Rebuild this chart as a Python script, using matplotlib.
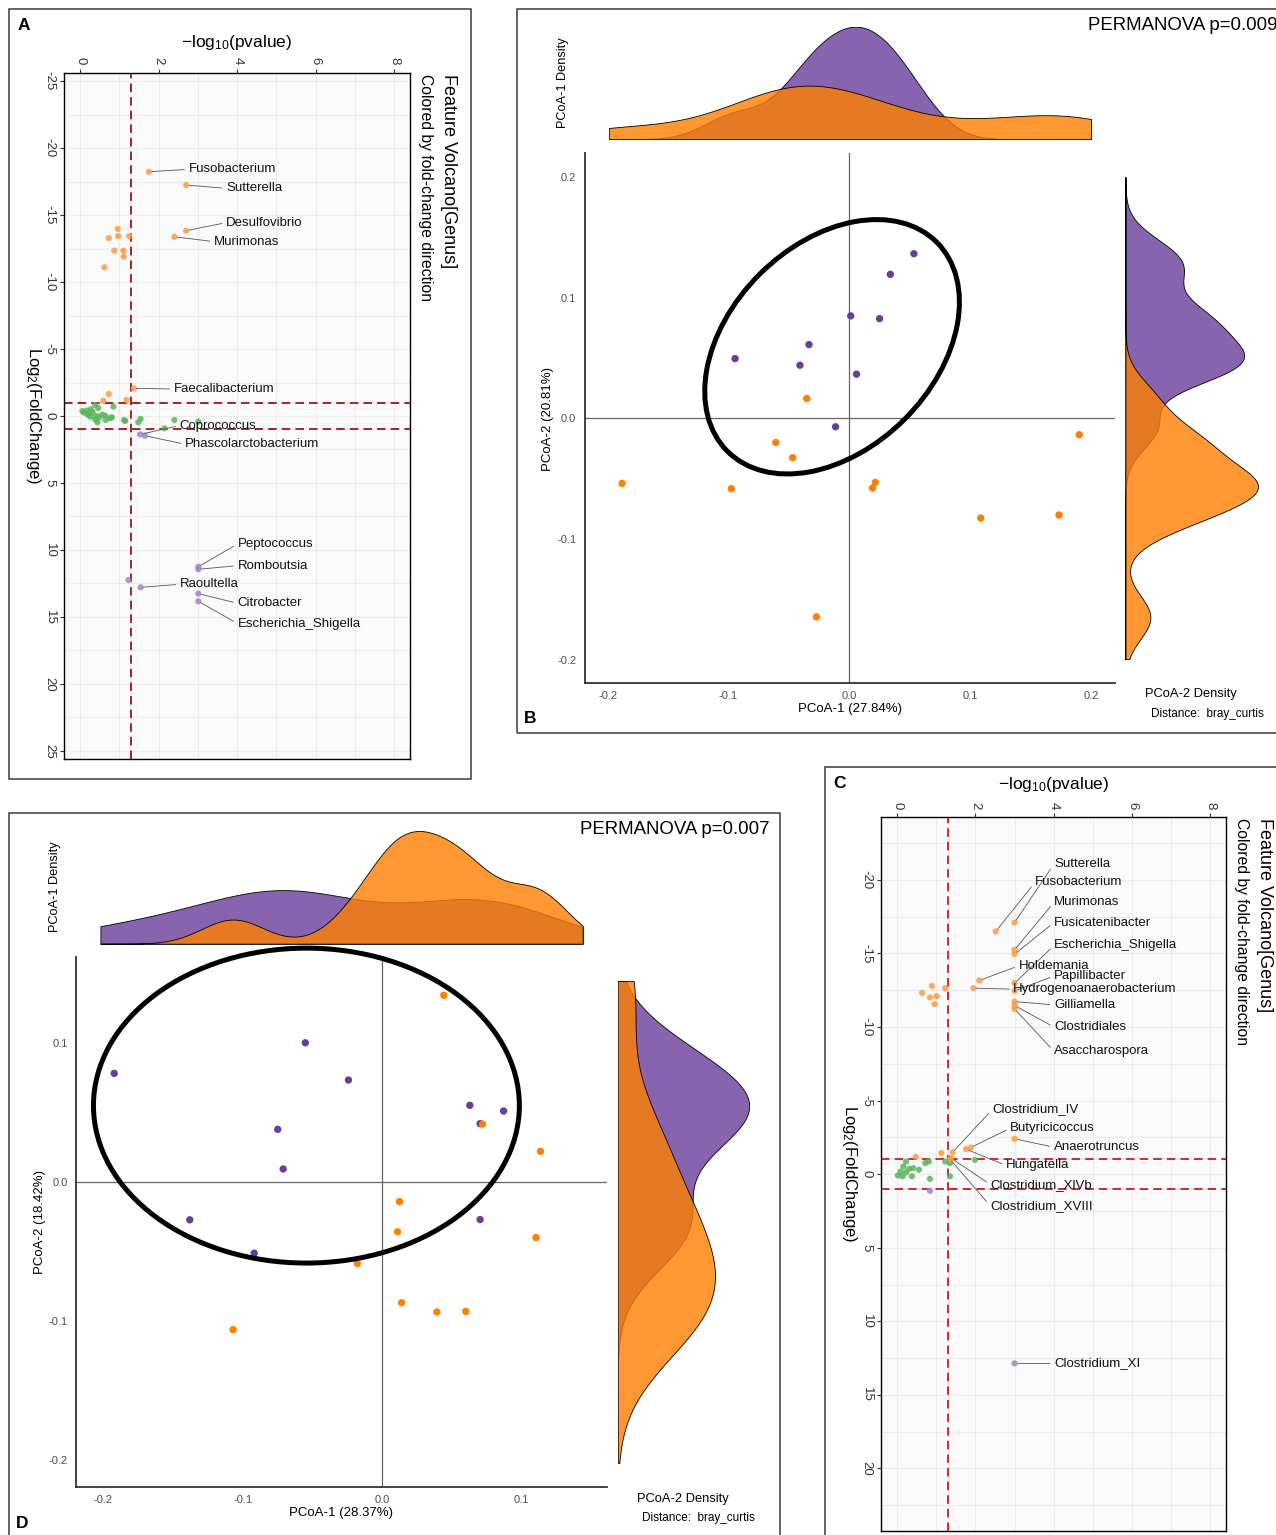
import numpy as np
import matplotlib
matplotlib.use("Agg")
import matplotlib.pyplot as plt
from matplotlib.patches import Ellipse, Rectangle
from matplotlib.colors import to_rgba

# ---------------- data ----------------
# panel A volcano: x = -log10(pvalue), y = log2(fold change)
a_genus = ["Fusobacterium", "Sutterella", "Desulfovibrio", "Murimonas", "Faecalibacterium",
           "Coprococcus", "Phascolarctobacterium", "Peptococcus", "Romboutsia", "Raoultella",
           "Citrobacter", "Escherichia_Shigella"]
a_gen_logp = [1.75, 2.70, 2.70, 2.40, 1.37, 1.53, 1.65, 3.01, 3.01, 1.54, 3.01, 3.01]
a_gen_lfc = [-18.23, -17.24, -13.83, -13.38, -2.07, 1.37, 1.47, 11.25, 11.44, 12.79, 13.26, 13.83]
a_logp = [0.96, 0.73, 0.97, 1.25, 0.87, 1.10, 1.11, 0.62, 0.73, 0.59, 1.18, 1.23,
          0.06, 0.10, 0.17, 0.22, 0.27, 0.32, 0.38, 0.41, 0.46, 0.44, 0.49, 0.56, 0.64,
          0.65, 0.76, 0.81, 0.85, 1.12, 1.15, 1.48, 1.54, 2.15, 2.40, 3.01, 0.38, 0.26, 0.19]
a_lfc = [-13.96, -13.28, -13.43, -13.43, -12.34, -12.34, -11.89, -11.10, -1.64, -1.14, -1.19, 12.24,
         -0.37, -0.25, -0.40, -0.20, -0.50, -0.30, -0.82, 0.00, -0.60, 0.47, 0.10, -0.10, -0.03,
         0.30, 0.17, 0.10, -0.70, 0.30, 0.37, 0.47, 0.22, 0.92, 0.30, 0.42, 0.25, 0.05, -0.10]

# panel C volcano
c_genus = ["Sutterella", "Fusobacterium", "Murimonas", "Fusicatenibacter", "Escherichia_Shigella",
           "Holdemania", "Papillibacter", "Hydrogenoanaerobacterium", "Gilliamella", "Clostridiales",
           "Asaccharospora", "Clostridium_IV", "Butyricicoccus", "Anaerotruncus", "Hungatella",
           "Clostridium_XlVb", "Clostridium_XVIII", "Clostridium_XI"]
c_gen_logp = [3.0, 2.52, 3.0, 3.0, 3.0, 2.10, 3.0, 1.95, 3.0, 3.0, 3.0,
              1.42, 1.885, 3.0, 1.76, 1.38, 1.35, 3.0]
c_gen_lfc = [-17.10, -16.49, -15.24, -14.95, -12.98, -13.16, -12.45, -12.64, -11.73, -11.46, -11.23,
             -1.49, -1.81, -2.40, -1.70, -1.09, -1.02, 12.86]
c_logp = [0.89, 0.64, 0.84, 1.01, 0.96, 1.23, 1.13, 0.48,
          0.23, 0.16, 0.09, 0.02, 0.14, 0.23, 0.31, 0.41, 0.56, 0.38, 0.72, 0.81, 0.84,
          1.23, 1.35, 1.35, 1.99, 0.84]
c_lfc = [-12.79, -12.32, -12.00, -12.09, -11.55, -12.64, -1.43, -1.18,
         -0.86, -0.52, -0.18, 0.09, 0.14, -0.12, -0.36, -0.41, -0.30, 0.14, -0.75, -0.86, 0.32,
         -0.86, -0.75, 0.14, -0.97, 1.13]

# panel B PCoA (bray_curtis)
b_pur_x = [0.0535, 0.034, 0.0012, 0.0251, -0.0333, -0.0945, -0.0408, 0.006, -0.0113]
b_pur_y = [0.1365, 0.1194, 0.085, 0.0827, 0.0612, 0.0496, 0.0441, 0.0367, -0.0069]
b_ora_x = [-0.0352, -0.0608, -0.0468, -0.188, -0.0976, 0.0216, 0.0192, 0.1088, 0.1736, 0.1904, -0.0272]
b_ora_y = [0.0165, -0.0199, -0.0325, -0.0538, -0.0582, -0.053, -0.0577, -0.0825, -0.080, -0.0135, -0.1644]
b_range = (-0.199, 0.200)
b_ellipse = (-0.0142, 0.0594, 0.1225, 0.0849, 45)   # centre x, centre y, semi-axes, angle

# panel D PCoA (bray_curtis)
d_pur_x = [-0.1923, -0.055, -0.024, 0.0632, 0.0875, 0.0706, -0.0748, -0.0709, -0.138, -0.0917, 0.0706]
d_pur_y = [0.0779, 0.0999, 0.0731, 0.0549, 0.0508, 0.0417, 0.0376, 0.0091, -0.0275, -0.0515, -0.0273]
d_ora_x = [0.0445, 0.0723, 0.114, 0.0127, 0.0113, 0.1108, -0.0176, 0.0142, 0.0395, 0.0603, -0.1069]
d_ora_y = [0.1341, 0.0414, 0.0218, -0.0144, -0.0361, -0.0402, -0.0589, -0.0871, -0.0938, -0.0934, -0.1065]
d_range = (-0.2022, 0.1443)
d_ellipse = (-0.0542, 0.0547, 0.153, 0.1133, 0)

# label text anchors (layout only)
a_txt_x = [2.76, 3.72, 3.72, 3.41, 2.39, 2.53, 2.67, 4.01, 4.01, 2.54, 4.01, 4.01]
a_txt_y = [-18.41, -16.99, -14.43, -13.01, -2.01, 0.72, 2.11, 9.55, 11.17, 12.56, 13.98, 15.5]
c_txt_x = [4.01, 3.52, 4.01, 4.01, 4.01, 3.10, 4.01, 2.97, 4.01, 4.01, 4.01,
           2.44, 2.89, 4.01, 2.78, 2.39, 2.38, 4.01]
c_txt_y = [-21.08, -19.82, -18.48, -17.10, -15.54, -14.15, -13.47, -12.57, -11.50, -9.99, -8.34,
           -4.42, -3.12, -1.83, -0.59, 0.72, 2.15, 12.86]

# ---------------- style ----------------
W, H = 1276, 1535
PUR, ORA = "#6a3d9a", "#ff7f00"
V_ORA, V_PUR, V_GRN = "#ff9a40", "#9d85c6", "#58b65a"
TICK_C = "#4d4d4d"

plt.rcParams["font.family"] = ["Liberation Sans", "DejaVu Sans"]
plt.rcParams["mathtext.fontset"] = "custom"
plt.rcParams["mathtext.rm"] = "Liberation Sans"
plt.rcParams["mathtext.it"] = "Liberation Sans:italic"

fig = plt.figure(figsize=(W / 100, H / 100), dpi=100)


def rect(l, t, r, b):
    return [l / W, 1 - b / H, (r - l) / W, (b - t) / H]


def ftext(x, y, s, **kw):
    fig.text(x / W, 1 - y / H, s, **kw)


def frame(l, t, r, b):
    fig.add_artist(Rectangle((l / W, 1 - b / H), (r - l) / W, (b - t) / H, transform=fig.transFigure,
                             fill=False, ec="#3a3a3a", lw=1.1))


def fc_color(v):
    return V_ORA if v < -1 else (V_PUR if v > 1 else V_GRN)


def kde(v, grid):
    v = np.asarray(v, float)
    n = v.size
    q1, q3 = np.percentile(v, [25, 75])
    bw = 0.9 * min(v.std(ddof=1), (q3 - q1) / 1.34) * n ** -0.2
    z = (grid[:, None] - v[None, :]) / bw
    return np.exp(-0.5 * z ** 2).sum(axis=1) / (n * bw * np.sqrt(2 * np.pi))


def volcano(box, ylim, ymaj, thr_col, genus, gx, gy, ox, oy, tx, ty):
    ax = fig.add_axes(rect(*box))
    ax.set_facecolor("#fafafa")
    ax.set_xlim(-0.41, 8.4)
    ax.set_ylim(ylim[1], ylim[0])
    ax.xaxis.tick_top()
    ax.set_xticks([0, 2, 4, 6, 8])
    ax.set_xticklabels(["0", "2", "4", "6", "8"])
    ax.set_xticks([1, 3, 5, 7], minor=True)
    ax.set_yticks(ymaj)
    ax.set_yticklabels([str(v) for v in ymaj])
    ax.set_yticks(np.arange(-22.5, 23, 5), minor=True)
    ax.grid(which="both", color="#ebebeb", lw=0.8)
    ax.set_axisbelow(True)
    ax.tick_params(which="major", length=3, color="#333333", labelsize=9.5, labelcolor="#333333",
                   labelrotation=-90, pad=3)
    ax.tick_params(which="minor", length=0)
    for lb in ax.get_yticklabels():
        lb.set_va("center")
    for sp in ax.spines.values():
        sp.set_color("black")
        sp.set_linewidth(1.0)
    dash = (0, (4.4, 2.6))
    ax.axvline(-np.log10(0.05), color=thr_col, ls=dash, lw=1.4, zorder=2)
    for h in (-1, 1):
        ax.axhline(h, color=thr_col, ls=dash, lw=1.4, zorder=2)
    xs = list(ox) + list(gx)
    ys = list(oy) + list(gy)
    ax.scatter(xs, ys, c=[fc_color(v) for v in ys], s=20, alpha=0.85, edgecolors="none", zorder=3)
    for g, x0, y0, x1, y1 in zip(genus, gx, gy, tx, ty):
        ax.annotate(g, xy=(x0, y0), xytext=(x1, y1), ha="left", va="center", fontsize=9.5,
                    color="#111111", zorder=5,
                    arrowprops=dict(arrowstyle="-", color="#555555", lw=0.6, relpos=(0, 0.5),
                                    shrinkA=1, shrinkB=2))
    return ax


def pcoa(box, rng, px, py, ox, oy, ell, top_px, right_px):
    L, T, R, B = box
    lo, hi = rng
    pad = 0.05 * (hi - lo)
    l0, l1 = lo - pad, hi + pad
    s = (R - L) / (l1 - l0)

    ax = fig.add_axes(rect(L, T, R, B))
    ax.set_xlim(l0, l1)
    ax.set_ylim(l0, l1)
    ticks = [t for t in [-0.2, -0.1, 0.0, 0.1, 0.2] if l0 <= t <= l1]
    ax.set_xticks(ticks)
    ax.set_xticklabels(["%.1f" % t for t in ticks])
    ax.set_yticks(ticks)
    ax.set_yticklabels(["%.1f" % t for t in ticks])
    ax.tick_params(length=0, labelsize=8, labelcolor=TICK_C)
    ax.tick_params(axis="x", pad=6)
    ax.tick_params(axis="y", pad=6)
    for k in ("top", "right"):
        ax.spines[k].set_visible(False)
    for k in ("left", "bottom"):
        ax.spines[k].set_color("#333333")
        ax.spines[k].set_linewidth(1.3)
    ax.axvline(0, color="#666666", lw=0.9, zorder=1)
    ax.axhline(0, color="#666666", lw=0.9, zorder=1)
    ax.scatter(px, py, s=28, color=PUR, edgecolors="none", zorder=3)
    ax.scatter(ox, oy, s=28, color=ORA, edgecolors="none", zorder=3)
    cx, cy, a, b, ang = ell
    ax.add_patch(Ellipse((cx, cy), 2 * a, 2 * b, angle=ang, fill=False, ec="black", lw=3.6,
                         clip_on=False, zorder=4))

    grid = np.linspace(lo, hi, 512)
    # top marginal density (PCoA-1)
    dpx, dox = kde(px, grid), kde(ox, grid)
    axt = fig.add_axes(rect(L + (lo - l0) * s, top_px[1], L + (hi - l0) * s, top_px[0]))
    axt.fill_between(grid, 0, dpx, fc=to_rgba(PUR, 0.8), ec="black", lw=0.6)
    axt.fill_between(grid, 0, dox, fc=to_rgba(ORA, 0.8), ec="black", lw=0.6)
    axt.set_xlim(lo, hi)
    axt.set_ylim(0, max(dpx.max(), dox.max()))
    axt.axis("off")
    # right marginal density (PCoA-2)
    dpy, doy = kde(py, grid), kde(oy, grid)
    axr = fig.add_axes(rect(right_px[0], T + (l1 - hi) * s, right_px[1], T + (l1 - lo) * s))
    axr.fill_betweenx(grid, 0, dpy, fc=to_rgba(PUR, 0.8), ec="black", lw=0.6)
    axr.fill_betweenx(grid, 0, doy, fc=to_rgba(ORA, 0.8), ec="black", lw=0.6)
    axr.set_ylim(lo, hi)
    axr.set_xlim(0, max(dpy.max(), doy.max()))
    axr.axis("off")
    return ax


# ---------------- panel A ----------------
frame(9, 9, 471, 779)
volcano((64, 73, 410, 759), (-25.6, 25.6), list(range(-25, 26, 5)), "#a3232a",
        a_genus, a_gen_logp, a_gen_lfc, a_logp, a_lfc, a_txt_x, a_txt_y)
ftext(237, 42, r"$\mathrm{-log_{10}(pvalue)}$", ha="center", va="center", fontsize=12.5)
ftext(33, 416, r"Log$_2$(FoldChange)", ha="center", va="center", rotation=-90, fontsize=12)
ftext(449, 74, "Feature Volcano[Genus]", ha="center", va="top", rotation=-90, fontsize=13)
ftext(425, 74, "Colored by fold-change direction", ha="center", va="top", rotation=-90, fontsize=11.3)
ftext(24, 25, "A", ha="center", va="center", fontsize=12.5, fontweight="bold")

# ---------------- panel B ----------------
frame(517, 9, 1290, 733)
pcoa((584.7, 153, 1115, 682.7), b_range, b_pur_x, b_pur_y, b_ora_x, b_ora_y, b_ellipse,
     (139.3, 26.7), (1125.4, 1258))
ftext(1088, 25, "PERMANOVA p=0.009", ha="left", va="center", fontsize=13.4)
ftext(563, 83, "PCoA-1 Density", ha="center", va="center", rotation=90, fontsize=9.2)
ftext(850, 709, "PCoA-1 (27.84%)", ha="center", va="center", fontsize=9.5)
ftext(548, 419, "PCoA-2 (20.81%)", ha="center", va="center", rotation=90, fontsize=9.5)
ftext(1191, 694, "PCoA-2 Density", ha="center", va="center", fontsize=9.3)
ftext(1207, 714, "Distance:  bray_curtis", ha="center", va="center", fontsize=8.5)
ftext(530, 719, "B", ha="center", va="center", fontsize=12.5, fontweight="bold")

# ---------------- panel C ----------------
frame(825, 767, 1290, 1550)
volcano((881, 817.3, 1226, 1531), (-24.25, 24.25), list(range(-20, 21, 5)), "#cf2a2a",
        c_genus, c_gen_logp, c_gen_lfc, c_logp, c_lfc, c_txt_x, c_txt_y)
ftext(1054, 785, r"$\mathrm{-log_{10}(pvalue)}$", ha="center", va="center", fontsize=12.5)
ftext(849, 1174, r"Log$_2$(FoldChange)", ha="center", va="center", rotation=-90, fontsize=12)
ftext(1265, 818, "Feature Volcano[Genus]", ha="center", va="top", rotation=-90, fontsize=13)
ftext(1241, 818, "Colored by fold-change direction", ha="center", va="top", rotation=-90, fontsize=11.3)
ftext(840, 783, "C", ha="center", va="center", fontsize=12.5, fontweight="bold")

# ---------------- panel D ----------------
frame(9, 813, 780, 1550)
pcoa((76.3, 957, 606.8, 1486.7), d_range, d_pur_x, d_pur_y, d_ora_x, d_ora_y, d_ellipse,
     (943.7, 831), (617.6, 749.2))
ftext(580, 829, "PERMANOVA p=0.007", ha="left", va="center", fontsize=13.4)
ftext(55, 887, "PCoA-1 Density", ha="center", va="center", rotation=90, fontsize=9.2)
ftext(341, 1513, "PCoA-1 (28.37%)", ha="center", va="center", fontsize=9.5)
ftext(40, 1222, "PCoA-2 (18.42%)", ha="center", va="center", rotation=90, fontsize=9.5)
ftext(683, 1499, "PCoA-2 Density", ha="center", va="center", fontsize=9.3)
ftext(698, 1518, "Distance:  bray_curtis", ha="center", va="center", fontsize=8.5)
ftext(22, 1523, "D", ha="center", va="center", fontsize=12.5, fontweight="bold")

fig.savefig("out.png", dpi=100)
